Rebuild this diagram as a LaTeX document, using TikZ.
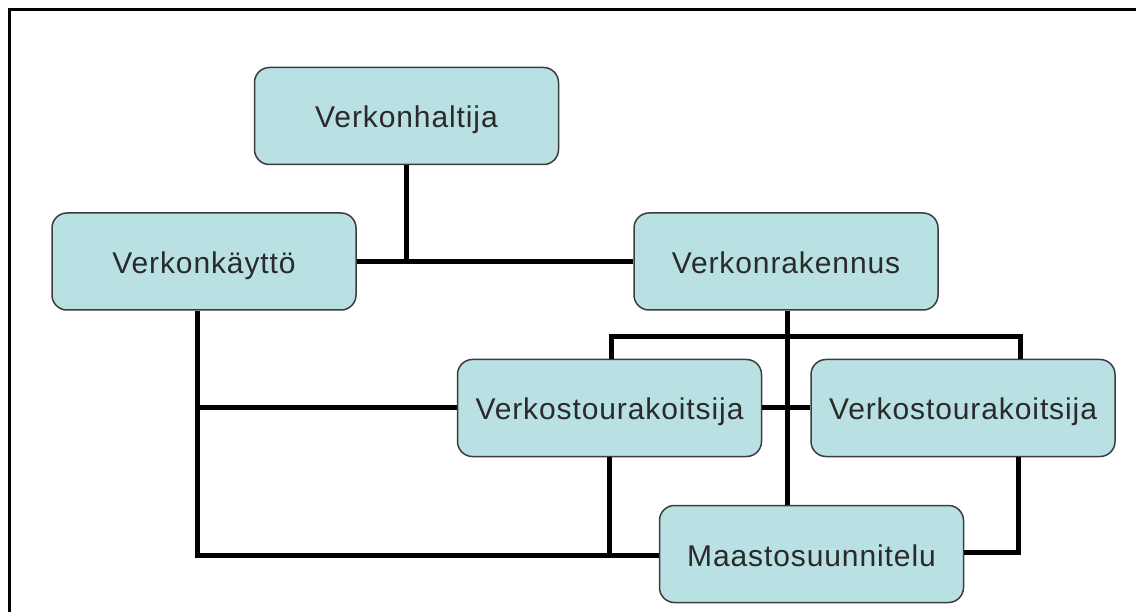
\documentclass[tikz,border=0pt]{standalone}
\usepackage{fontspec}
\setmainfont{Liberation Sans}[LetterSpace=3]
\definecolor{boxfill}{HTML}{B9E0E3}
\definecolor{boxline}{HTML}{3C3C3C}
\definecolor{boxtext}{HTML}{2A2A2A}
\begin{document}
\begin{tikzpicture}[x=1pt,y=-1pt,
  orgbox/.style={draw=boxline, line width=1.5pt, fill=boxfill, rounded corners=15pt,
    minimum width=304pt, minimum height=97pt, inner sep=0pt,
    text height=30pt, text depth=6pt,
    text=boxtext, font=\fontsize{30}{36}\selectfont},
  link/.style={line width=5pt, black, line join=miter},
  frameline/.style={line width=3pt, black}]
\useasboundingbox (0,0) rectangle (1136,612);

% page frame (top and left edges only)
\draw[frameline] (9,612) -- (9,10) -- (1136,10);

% organisation boxes
\node[orgbox] (top)      at (406.5,116)  {Verkonhaltija};
\node[orgbox] (kaytto)   at (204,261.5)  {Verkonkäyttö};
\node[orgbox] (rakennus) at (786,261.5)  {Verkonrakennus};
\node[orgbox] (v1)       at (609.5,408)  {Verkostourakoitsija};
\node[orgbox] (v2)       at (963,408)    {Verkostourakoitsija};
\node[orgbox] (maasto)   at (811.5,554)  {Maastosuunnitelu};

% junction points
\coordinate (bus) at (787,337);
\coordinate (lb)  at (197,555);

% connectors
\draw[link] (top) -- (top |- kaytto);
\draw[link] (kaytto) -- (rakennus);
\draw[link] ([xshift=1pt]rakennus.south) -- ([xshift=1pt]rakennus.south |- maasto.north);
\draw[link] ([xshift=1.5pt]v1.north) |- (bus) -| ([xshift=57pt]v2.north);
\draw[link] (v1) -- (v2);
\draw[link] ([xshift=-7pt]kaytto.south) -- (lb) -- (lb -| maasto.west);
\draw[link] (v1.west) -- (v1.west -| lb);
\draw[link] (v1.south) |- ([yshift=-1pt]maasto.west);
\draw[link] ([xshift=55pt]v2.south) |- ([yshift=2pt]maasto.east);
\end{tikzpicture}
\end{document}
